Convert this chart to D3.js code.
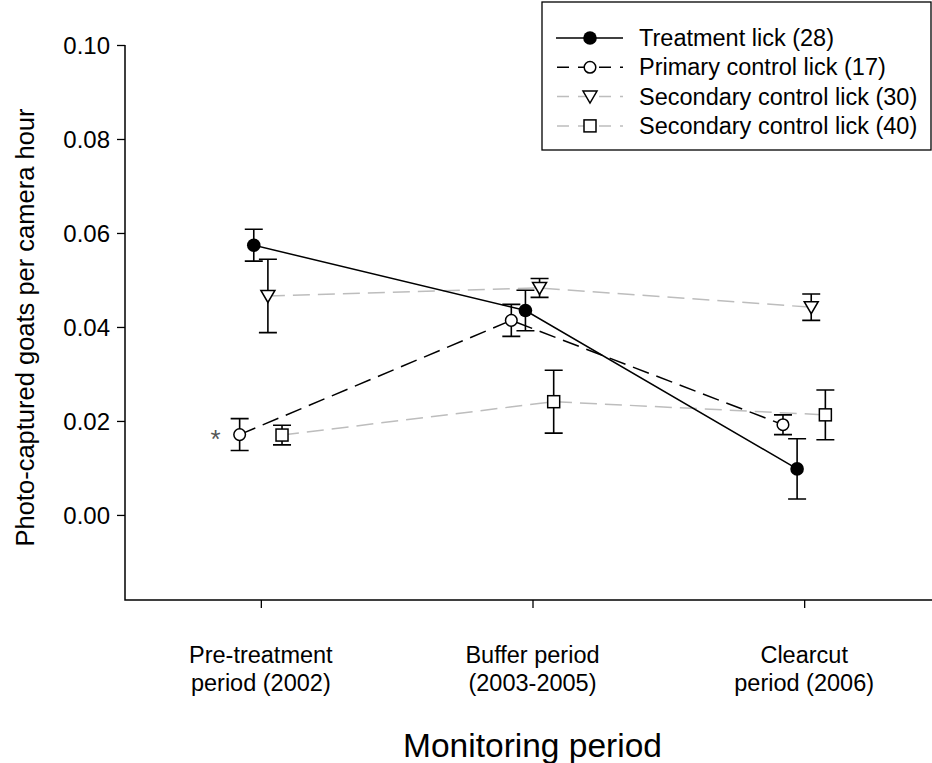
<!DOCTYPE html>
<html>
<head>
<meta charset="utf-8">
<script src="https://cdn.jsdelivr.net/npm/d3@7"></script>
<style>
  html, body { margin: 0; padding: 0; background: #fff; }
  svg { display: block; font-family: Arial, "Liberation Sans", sans-serif; }
</style>
</head>
<body>
<svg id="chart" width="932" height="763"></svg>
<script>
// Monitoring periods (x categories), two-line labels
const periods = [["Pre-treatment", "period (2002)"], ["Buffer period", "(2003-2005)"], ["Clearcut", "period (2006)"]];

// Mean photo-captured goats per camera hour, and standard errors
const treatment28   = [0.0574, 0.0435, 0.0098];
const treatment28Se = [0.0034, 0.0043, 0.0064];
const primary17     = [0.0171, 0.0414, 0.0192];
const primary17Se   = [0.0034, 0.0034, 0.0021];
const secondary30   = [0.0466, 0.0483, 0.0442];
const secondary30Se = [0.0078, 0.0020, 0.0028];
const secondary40   = [0.0170, 0.0241, 0.0213];
const secondary40Se = [0.0021, 0.0067, 0.0053];

const yTicks = [0.00, 0.02, 0.04, 0.06, 0.08, 0.10];

const seriesNames = ["Treatment lick (28)", "Primary control lick (17)", "Secondary control lick (30)", "Secondary control lick (40)"];

const svg = d3.select("#chart");
const plotLeft = 125, plotTop = 45, plotBottom = 600, plotRight = 940;

const x = d3.scaleLinear().domain([0.5, 3.5]).range([plotLeft, plotRight]);
const y = d3.scaleLinear().domain([-0.0181, 0.10]).range([plotBottom, plotTop]);

// small horizontal dodge within each period (in category units)
const series = [
  { name: seriesNames[0], mean: treatment28, se: treatment28Se, dx: -0.026, stroke: "#000", dash: null, marker: "filled" },
  { name: seriesNames[1], mean: primary17, se: primary17Se, dx: -0.078, stroke: "#000", dash: "17,8", marker: "circle" },
  { name: seriesNames[2], mean: secondary30, se: secondary30Se, dx: 0.026, stroke: "#bdbdbd", dash: "17,8", marker: "triangle" },
  { name: seriesNames[3], mean: secondary40, se: secondary40Se, dx: 0.078, stroke: "#bdbdbd", dash: "17,8", marker: "square" }
];

// Axes
const yAxis = d3.axisLeft(y).tickValues(yTicks).tickFormat(d3.format(".2f")).tickSize(8).tickSizeOuter(0);
const gy = svg.append("g").attr("transform", `translate(${plotLeft},0)`).call(yAxis);
gy.attr("font-family", null).attr("font-size", null);
gy.select(".domain").remove();
gy.selectAll(".tick line").attr("stroke", "#000").attr("stroke-width", 1.3);
gy.selectAll(".tick text").attr("font-size", 24).attr("fill", "#000").attr("x", -15).attr("dy", "0.35em");

const xAxis = d3.axisBottom(x).tickValues([1, 2, 3]).tickFormat("").tickSize(8).tickSizeOuter(0);
const gx = svg.append("g").attr("transform", `translate(0,${plotBottom})`).call(xAxis);
gx.select(".domain").remove();
gx.selectAll(".tick line").attr("stroke", "#000").attr("stroke-width", 1.3);

svg.append("path")
  .attr("d", `M${plotLeft},${y(0.10)}V${plotBottom}H${plotRight}`)
  .attr("fill", "none").attr("stroke", "#000").attr("stroke-width", 1.5);

// Category labels
periods.forEach((lines, i) => {
  const t = svg.append("text").attr("text-anchor", "middle").attr("font-size", 23.5).attr("fill", "#000");
  lines.forEach((s, j) => {
    t.append("tspan").attr("x", x(i + 1)).attr("y", 663 + j * 28).text(s);
  });
});

// Axis titles
svg.append("text")
  .attr("x", x(2)).attr("y", 757)
  .attr("text-anchor", "middle").attr("font-size", 33.5).text("Monitoring period");
svg.append("text")
  .attr("transform", `translate(34,${(plotTop + plotBottom) / 2 + 5}) rotate(-90)`)
  .attr("text-anchor", "middle").attr("font-size", 25.5).text("Photo-captured goats per camera hour");

// Marker drawing
function drawMarker(g, type, cx, cy) {
  if (type === "filled") {
    g.append("circle").attr("cx", cx).attr("cy", cy).attr("r", 6.8).attr("fill", "#000");
  } else if (type === "circle") {
    g.append("circle").attr("cx", cx).attr("cy", cy).attr("r", 5.8)
      .attr("fill", "#fff").attr("stroke", "#000").attr("stroke-width", 1.5);
  } else if (type === "triangle") {
    g.append("path").attr("d", `M${cx - 7},${cy - 5.5}L${cx + 7},${cy - 5.5}L${cx},${cy + 6.5}Z`)
      .attr("fill", "#fff").attr("stroke", "#000").attr("stroke-width", 1.5);
  } else if (type === "square") {
    g.append("rect").attr("x", cx - 6).attr("y", cy - 6).attr("width", 12).attr("height", 12)
      .attr("fill", "#fff").attr("stroke", "#000").attr("stroke-width", 1.5);
  }
}

// Connecting lines (gray ones underneath)
const line = d3.line().x(d => d[0]).y(d => d[1]);
const drawOrder = [3, 2, 1, 0];
drawOrder.forEach(k => {
  const s = series[k];
  const pts = s.mean.map((m, i) => [x(i + 1 + s.dx), y(m)]);
  svg.append("path").attr("d", line(pts)).attr("fill", "none")
    .attr("stroke", s.stroke).attr("stroke-width", 1.5)
    .attr("stroke-dasharray", s.dash);
});

// Error bars and markers
drawOrder.forEach(k => {
  const s = series[k];
  const g = svg.append("g");
  s.mean.forEach((m, i) => {
    const cx = x(i + 1 + s.dx);
    const y1 = y(m + s.se[i]), y0 = y(m - s.se[i]);
    g.append("path")
      .attr("d", `M${cx},${y1}V${y0}M${cx - 9},${y1}H${cx + 9}M${cx - 9},${y0}H${cx + 9}`)
      .attr("fill", "none").attr("stroke", "#000").attr("stroke-width", 1.6);
    drawMarker(g, s.marker, cx, y(m));
  });
});

// Significance mark next to the primary control pre-treatment mean
svg.append("text")
  .attr("x", x(1 + series[1].dx) - 24).attr("y", y(primary17[0]) + 13)
  .attr("text-anchor", "middle").attr("font-size", 26).attr("fill", "#555").text("*");

// Legend
const lg = svg.append("g");
lg.append("rect").attr("x", 542).attr("y", 2).attr("width", 389).attr("height", 148)
  .attr("fill", "#fff").attr("stroke", "#000").attr("stroke-width", 1.3);
series.forEach((s, k) => {
  const cy = 38 + k * 29.3;
  lg.append("path").attr("d", `M556,${cy}H623`).attr("fill", "none")
    .attr("stroke", s.stroke).attr("stroke-width", 1.5)
    .attr("stroke-dasharray", s.dash ? "12,9" : null)
    .attr("stroke-dashoffset", s.dash ? -1 : 0);
  drawMarker(lg, s.marker, 590, cy);
  lg.append("text").attr("x", 639).attr("y", cy + 8).attr("font-size", 23.5).text(s.name);
});
</script>
</body>
</html>
